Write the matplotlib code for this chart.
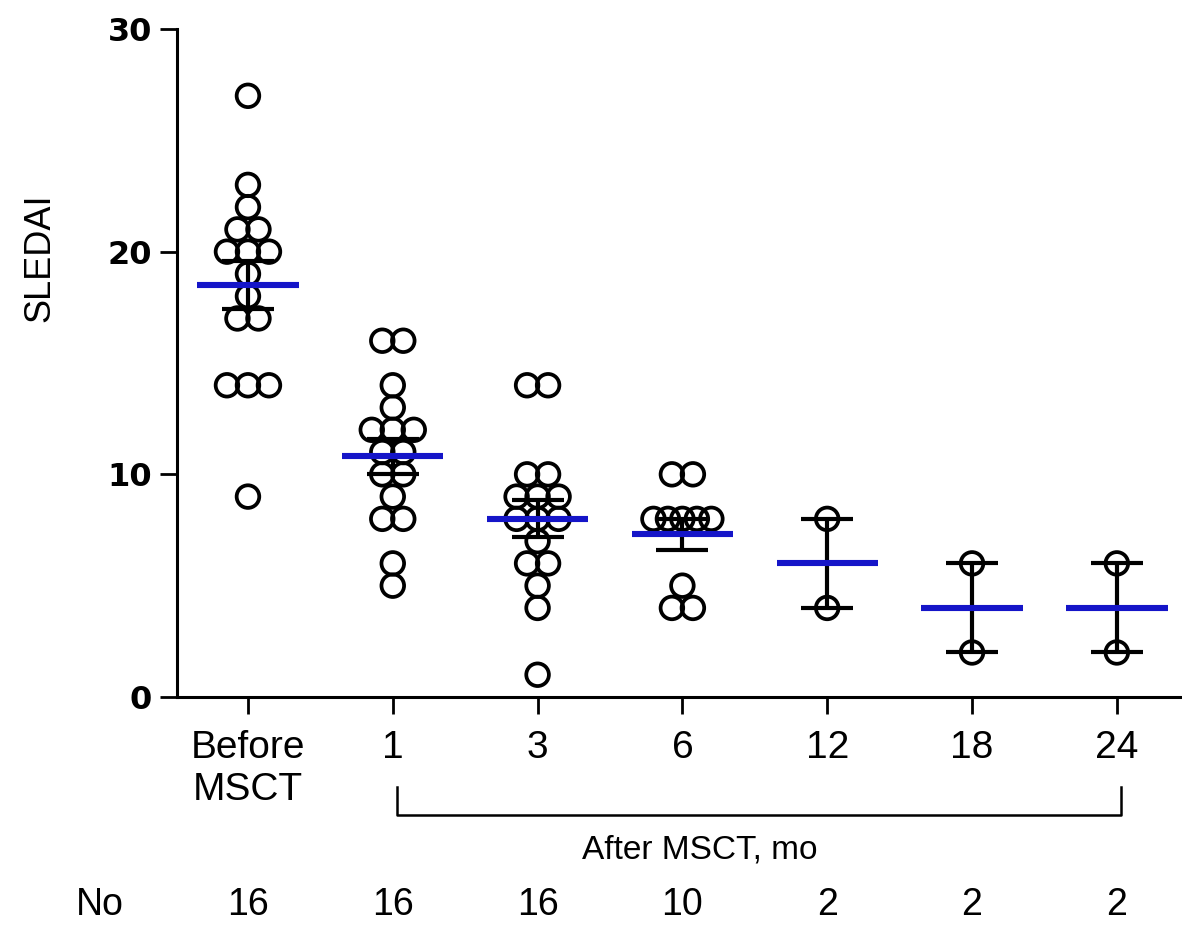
import numpy as np
import matplotlib
matplotlib.use('Agg')
import matplotlib.pyplot as plt
import matplotlib.transforms as mtransforms
from matplotlib.lines import Line2D

groups = ['Before\nMSCT', '1', '3', '6', '12', '18', '24']
n_counts = [16, 16, 16, 10, 2, 2, 2]

before = [27, 23, 22, 21, 21, 20, 20, 20, 19, 18, 17, 17, 14, 14, 14, 9]
month1 = [16, 16, 14, 13, 12, 12, 12, 11, 11, 10, 10, 9, 8, 8, 6, 5]
month3 = [14, 14, 10, 10, 9, 9, 9, 8, 8, 8, 7, 6, 6, 5, 4, 1]
month6 = [10, 10, 8, 8, 8, 8, 8, 5, 4, 4]
month12 = [8, 4]
month18 = [6, 2]
month24 = [6, 2]
data = [before, month1, month3, month6, month12, month18, month24]


def spread(vals, step=0.145):
    # side-by-side placement for equal values, like a prism dot plot
    vals = np.asarray(vals, float)
    offs = np.zeros(len(vals))
    for v in np.unique(vals):
        idx = np.where(vals == v)[0]
        k = len(idx)
        s = min(step, 0.4 / max(k - 1, 1))
        offs[idx] = (np.arange(k) - (k - 1) / 2) * s
    return offs


txt_font = ['Liberation Sans', 'DejaVu Sans']

fig = plt.figure(figsize=(11.82, 9.27), dpi=100)
ax = fig.add_axes([177 / 1182, 1 - 697 / 927, 1 - 177 / 1182, (697 - 29) / 927])

for i, vals in enumerate(data):
    vals = np.asarray(vals, float)
    x = i + spread(vals)
    ax.scatter(x, vals, s=265, facecolors='none', edgecolors='black',
               linewidths=2.7, zorder=2, clip_on=False)
    m = vals.mean()
    sem = vals.std(ddof=1) / np.sqrt(len(vals))
    ax.errorbar(i, m, yerr=sem, fmt='none', ecolor='black', elinewidth=3,
                capsize=19, capthick=3, zorder=3)
    ax.hlines(m, i - 0.35, i + 0.35, color='#1515c8', linewidth=4.4, zorder=4)

ax.set_xlim(-0.49, 6.45)
ax.set_ylim(0, 30)
ax.set_yticks([0, 10, 20, 30])
ax.set_xticks(range(len(groups)))
ax.set_xticklabels(groups, fontsize=28, family=txt_font, linespacing=1.2)
for lab in ax.get_yticklabels():
    lab.set_fontsize(23)
    lab.set_fontweight('bold')
    lab.set_family('DejaVu Sans')
ax.tick_params(axis='y', length=12, width=2, pad=6)
ax.tick_params(axis='x', length=12, width=2, pad=12)
for side in ['top', 'right']:
    ax.spines[side].set_visible(False)
for side in ['left', 'bottom']:
    ax.spines[side].set_linewidth(2.2)

fig.text(40 / 1182, 1 - 258 / 927, 'SLEDAI', rotation=90, fontsize=26,
         family=txt_font, ha='center', va='center')

# bracket under the after-treatment groups
tr = mtransforms.blended_transform_factory(ax.transData, fig.transFigure)
y_top = 1 - 787 / 927
y_bot = 1 - 815 / 927
fig.add_artist(Line2D([1.03, 1.03, 6.03, 6.03], [y_top, y_bot, y_bot, y_top],
                      transform=tr, color='black', linewidth=1.8))
fig.text(3.12, 1 - 850 / 927, 'After MSCT, mo', transform=tr, fontsize=24,
         family=txt_font, ha='center', va='center')

# number of patients row
fig.text(100 / 1182, 1 - 905 / 927, 'No', fontsize=27, family=txt_font,
         ha='center', va='center')
for i, n in enumerate(n_counts):
    fig.text(i, 1 - 905 / 927, str(n), transform=tr, fontsize=27,
             family=txt_font, ha='center', va='center')

fig.savefig('out.png', dpi=100)
